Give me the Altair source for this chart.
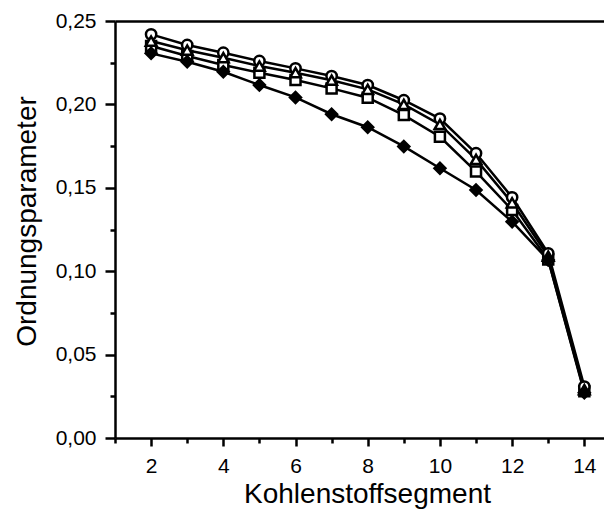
import altair as alt
import pandas as pd

segments = [2, 3, 4, 5, 6, 7, 8, 9, 10, 11, 12, 13, 14]
series_circle = [0.242, 0.2356, 0.231, 0.226, 0.2216, 0.217, 0.2116, 0.2025, 0.1915, 0.1707, 0.1443, 0.1107, 0.0308]
series_triangle = [0.238, 0.2325, 0.228, 0.223, 0.219, 0.2145, 0.209, 0.2, 0.188, 0.167, 0.141, 0.109, 0.029]
series_square = [0.235, 0.229, 0.2236, 0.219, 0.2146, 0.2096, 0.204, 0.1936, 0.1806, 0.1597, 0.1367, 0.107, 0.028]
series_diamond = [0.2306, 0.2256, 0.2196, 0.2116, 0.2042, 0.1941, 0.1863, 0.1748, 0.1617, 0.1487, 0.1297, 0.1067, 0.0272]

series_names = ["Q", "K", "T", "D"]  # square, circle, triangle, diamond (draw order)
series_values = [series_square, series_circle, series_triangle, series_diamond]
shapes = ["square", "circle", "triangle-up", "diamond"]
fills = ["white", "white", "white", "black"]
sizes = [100, 120, 115, 160]

rows = []
for order, (name, vals) in enumerate(zip(series_names, series_values)):
    for x, v in zip(segments, vals):
        rows.append({"seg": x, "val": v, "series": name, "order": order})
df = pd.DataFrame(rows)

FONT = "Liberation Sans"
x_ticks = list(range(1, 15))
y_ticks = [round(i * 0.025, 3) for i in range(11)]

x_scale = alt.Scale(domain=[1, 14.545], nice=False, zero=False)
y_scale = alt.Scale(domain=[0, 0.25], nice=False, zero=True)

x_axis = alt.Axis(
    values=x_ticks,
    labelExpr="datum.value % 2 === 0 ? datum.label : ''",
    tickSize={"condition": {"test": "datum.value % 2 === 0", "value": 8}, "value": 5},
    tickWidth=2.5, tickColor="black",
    domainWidth=2.5, domainColor="black",
    labelFont=FONT, labelFontSize=21, labelColor="black", labelPadding=9,
    labelFlush=False, labelOverlap=False,
    title="Kohlenstoffsegment", titleFont=FONT, titleFontSize=28,
    titleFontWeight="normal", titleColor="black",
    titleBaseline="alphabetic", titleY=64, titleX=252,
    grid=False,
)
y_axis = alt.Axis(
    values=y_ticks,
    labelExpr="round(datum.value*1000) % 50 === 0 ? replace(format(datum.value, '.2f'), '.', ',') : ''",
    tickSize={"condition": {"test": "round(datum.value*1000) % 50 === 0", "value": 10}, "value": 5},
    tickWidth=2.5, tickColor="black",
    domainWidth=2.5, domainColor="black",
    labelFont=FONT, labelFontSize=21, labelColor="black", labelPadding=9,
    labelFlush=False, labelOverlap=False,
    title="Ordnungsparameter", titleFont=FONT, titleFontSize=28,
    titleFontWeight="normal", titleColor="black",
    titleBaseline="alphabetic", titleAngle=-90, titleX=-80, titleY=200,
    grid=False,
)

base = alt.Chart(df)

lines = base.mark_line(color="black", strokeWidth=2.5).encode(
    x=alt.X("seg:Q", scale=x_scale, axis=x_axis),
    y=alt.Y("val:Q", scale=y_scale, axis=y_axis),
    detail="series:N",
    order="seg:Q",
)

points = base.mark_point(filled=True, stroke="black", strokeWidth=2.5, opacity=1).encode(
    x=alt.X("seg:Q", scale=x_scale, axis=None),
    y=alt.Y("val:Q", scale=y_scale),
    shape=alt.Shape("series:N", scale=alt.Scale(domain=series_names, range=shapes), legend=None),
    fill=alt.Fill("series:N", scale=alt.Scale(domain=series_names, range=fills), legend=None),
    size=alt.Size("series:N", scale=alt.Scale(domain=series_names, range=sizes), legend=None),
    order=alt.Order("order:Q"),
)

top = base.mark_point(opacity=0).encode(
    x=alt.X("seg:Q", scale=x_scale,
            axis=alt.Axis(orient="top", labels=False, ticks=False, title=None,
                          domainWidth=2.5, domainColor="black", grid=False)),
    y=alt.Y("val:Q", scale=y_scale),
)

chart = alt.layer(lines, points, top).resolve_axis(x="independent").properties(
    width=489, height=417,
    autosize=alt.AutoSizeParams(type="none"),
    padding={"left": 107, "top": 13, "right": 0, "bottom": 71},
    background="white",
).configure_view(stroke=None)

chart.save("out.html", embed_options={"renderer": "svg", "actions": False})
